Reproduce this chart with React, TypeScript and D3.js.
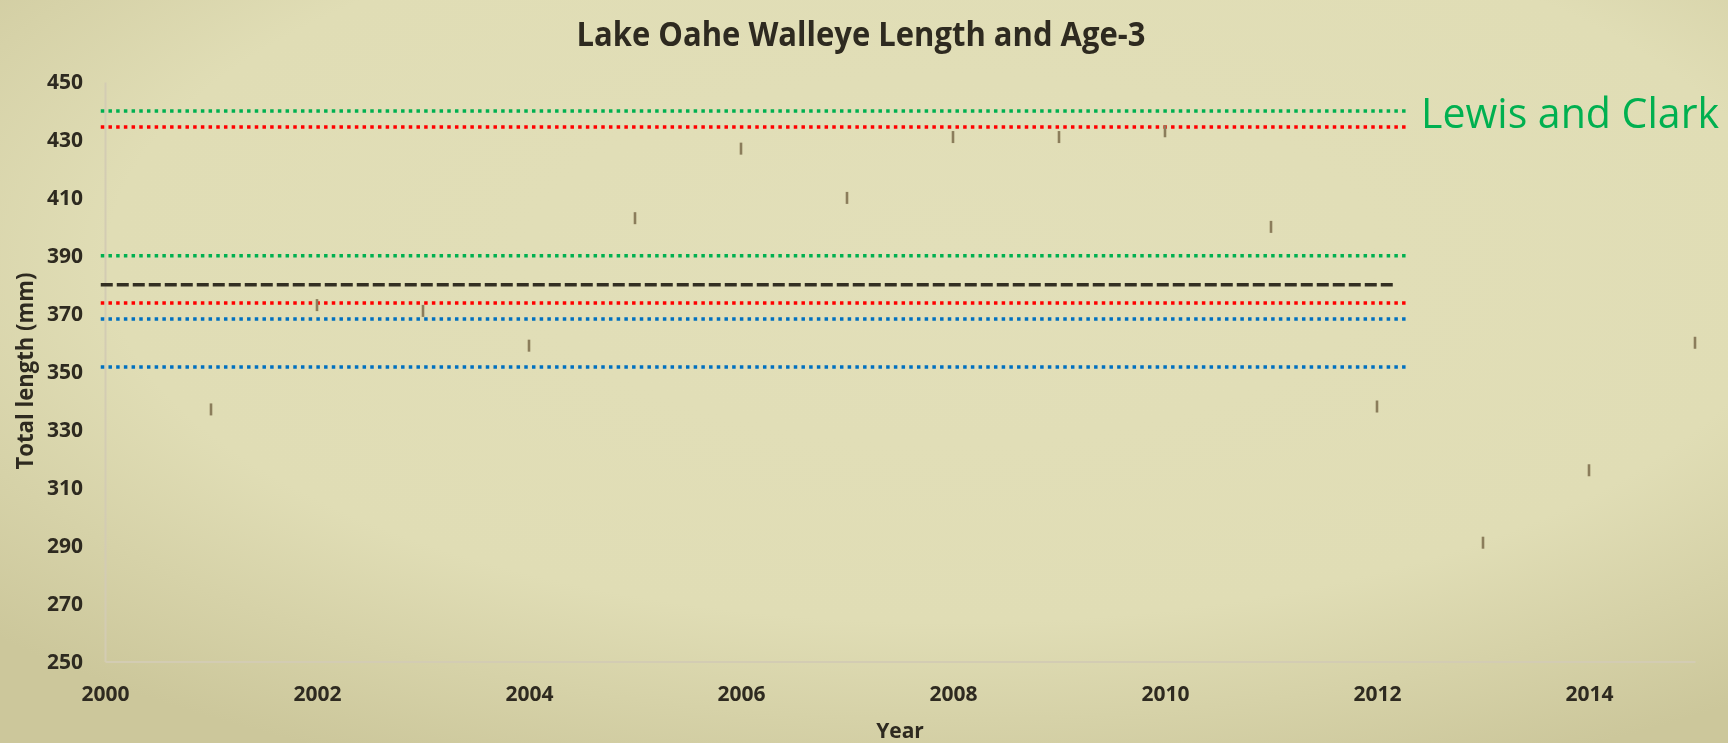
import React, { useEffect, useRef } from "react";
import * as d3 from "d3";

// sampled years and mean age-3 total length (mm)
const years = [2001, 2002, 2003, 2004, 2005, 2006, 2007, 2008, 2009, 2010, 2011, 2012, 2013, 2014, 2015];
const lengths = [337, 373, 371, 359, 403, 427, 410, 431, 431, 433, 400, 338, 291, 316, 360];

// reference levels (dotted) and overall mean (dashed)
const refValues = [440, 434.5, 390, 373.7, 368.2, 351.6];
const refColors = ["#00b050", "#ff0000", "#00b050", "#ff0000", "#0070c0", "#0070c0"];
const meanValue = 380;
const refSpan = [1999.96, 2012.3];
const meanSpan = [1999.96, 2012.15];

const yTicks = [250, 270, 290, 310, 330, 350, 370, 390, 410, 430, 450];
const xTicks = [2000, 2002, 2004, 2006, 2008, 2010, 2012, 2014];

const W = 1728;
const H = 743;
const FONT = "'Open Sans', 'DejaVu Sans', sans-serif";

export default function App() {
  const ref = useRef<SVGSVGElement>(null);

  useEffect(() => {
    const svg = d3.select(ref.current);
    svg.selectAll("*").remove();

    const defs = svg.append("defs");
    const grad = defs.append("radialGradient").attr("id", "bg")
      .attr("cx", "55%").attr("cy", "35%").attr("r", "75%");
    grad.append("stop").attr("offset", "0%").attr("stop-color", "#e2dfb9");
    grad.append("stop").attr("offset", "65%").attr("stop-color", "#e0ddb5");
    grad.append("stop").attr("offset", "100%").attr("stop-color", "#ccc79b");
    svg.append("rect").attr("width", W).attr("height", H).attr("fill", "url(#bg)");

    const x = d3.scaleLinear().domain([2000, 2015]).range([105, 1695]);
    const y = d3.scaleLinear().domain([250, 450]).range([661.5, 82]);

    // axes
    const xAxis = svg.append("g").attr("transform", `translate(0, ${y(250)})`)
      .call(d3.axisBottom(x).tickValues(xTicks).tickFormat(d3.format("d")).tickSize(0).tickPadding(39));
    xAxis.select(".domain").attr("stroke", "#d3ccb3").attr("stroke-width", 2);
    xAxis.selectAll("text").attr("font-family", FONT).attr("font-weight", 700)
      .attr("font-size", 21).attr("fill", "#2e2a20").attr("dy", "0");

    const yAxis = svg.append("g").attr("transform", `translate(${x(2000)}, 0)`)
      .call(d3.axisLeft(y).tickValues(yTicks).tickSize(0).tickPadding(22));
    yAxis.select(".domain").attr("stroke", "#d3ccb3").attr("stroke-width", 2);
    yAxis.selectAll("text").attr("font-family", FONT).attr("font-weight", 700)
      .attr("font-size", 21).attr("fill", "#2e2a20");

    // reference lines
    svg.append("g").selectAll("line").data(refValues).join("line")
      .attr("x1", x(refSpan[0])).attr("x2", x(refSpan[1]))
      .attr("y1", d => y(d)).attr("y2", d => y(d))
      .attr("stroke", (d, i) => refColors[i])
      .attr("stroke-width", 3.5)
      .attr("stroke-dasharray", "3.5 4.2");

    svg.append("line")
      .attr("x1", x(meanSpan[0])).attr("x2", x(meanSpan[1]))
      .attr("y1", y(meanValue)).attr("y2", y(meanValue))
      .attr("stroke", "#332f22").attr("stroke-width", 3.5)
      .attr("stroke-dasharray", "12 4");

    // markers
    svg.append("g").selectAll("rect").data(years).join("rect")
      .attr("x", d => x(d) - 1.3)
      .attr("y", (d, i) => y(lengths[i]) - 6)
      .attr("width", 2.6)
      .attr("height", 12)
      .attr("fill", "#8b7d5b");

    // titles
    svg.append("text")
      .attr("x", 861).attr("y", 46)
      .attr("text-anchor", "middle")
      .attr("font-family", FONT).attr("font-weight", 700).attr("font-size", 34)
      .attr("fill", "#2e2a20")
      .attr("textLength", 569).attr("lengthAdjust", "spacingAndGlyphs")
      .text("Lake Oahe Walleye Length and Age-3");

    svg.append("text")
      .attr("x", 900).attr("y", 738)
      .attr("text-anchor", "middle")
      .attr("font-family", FONT).attr("font-weight", 700).attr("font-size", 21)
      .attr("fill", "#2e2a20")
      .text("Year");

    svg.append("text")
      .attr("transform", "translate(33, 371) rotate(-90)")
      .attr("text-anchor", "middle")
      .attr("font-family", FONT).attr("font-weight", 700).attr("font-size", 23)
      .attr("fill", "#2e2a20")
      .attr("textLength", 197).attr("lengthAdjust", "spacingAndGlyphs")
      .text("Total length (mm)");

    svg.append("text")
      .attr("x", 1421).attr("y", 128)
      .attr("font-family", FONT).attr("font-size", 42)
      .attr("fill", "#00b050")
      .attr("textLength", 298).attr("lengthAdjust", "spacingAndGlyphs")
      .text("Lewis and Clark");
  }, []);

  return (
    <svg ref={ref} width={W} height={H}
      style={{ position: "fixed", top: 0, left: 0, display: "block" }} />
  );
}
